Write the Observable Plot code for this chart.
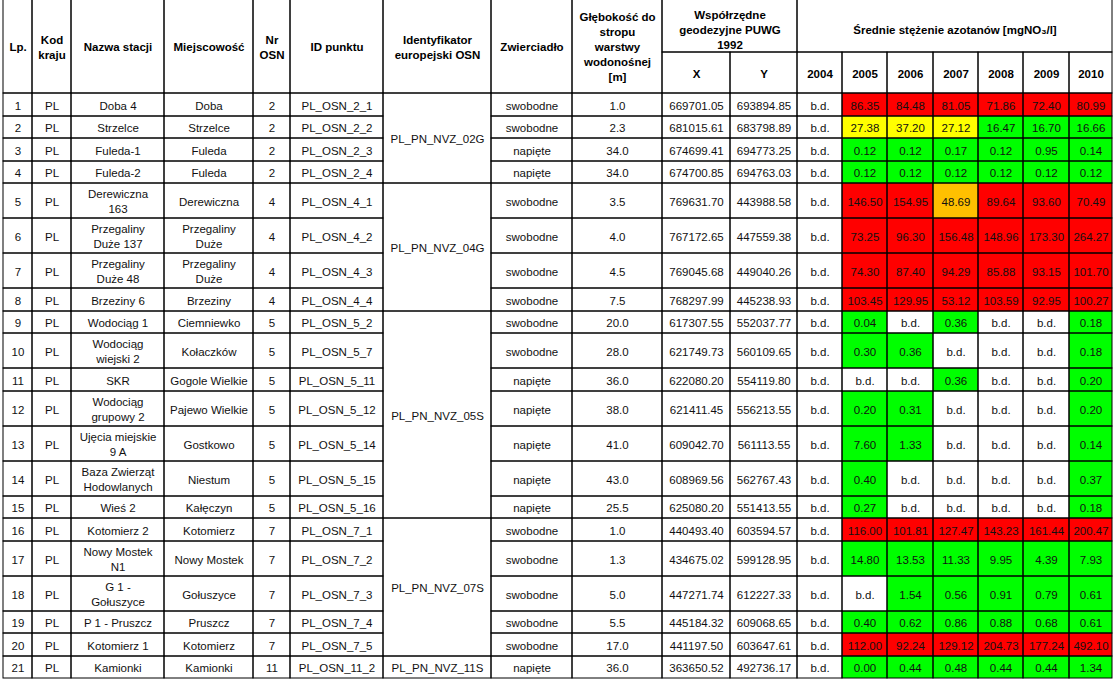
<!DOCTYPE html>
<html>
<head>
<meta charset="utf-8">
<script src="https://cdn.jsdelivr.net/npm/d3@7"></script>
<script src="https://cdn.jsdelivr.net/npm/@observablehq/plot@0.6"></script>
<style>
  html, body { margin: 0; padding: 0; background: #ffffff; }
  #chart svg { display: block; }
</style>
</head>
<body>
<div id="chart"></div>
<script>
// ---------------- DATA ----------------
const lp = [1,2,3,4,5,6,7,8,9,10,11,12,13,14,15,16,17,18,19,20,21];
const countryCodes = ["PL","PL","PL","PL","PL","PL","PL","PL","PL","PL","PL","PL","PL","PL","PL","PL","PL","PL","PL","PL","PL"];
const stationNames = ["Doba 4","Strzelce","Fuleda-1","Fuleda-2","Derewiczna\n163","Przegaliny\nDuże 137","Przegaliny\nDuże 48","Brzeziny 6","Wodociąg 1","Wodociąg\nwiejski 2","SKR","Wodociąg\ngrupowy 2","Ujęcia miejskie\n9 A","Baza Zwierząt\nHodowlanych","Wieś 2","Kotomierz 2","Nowy Mostek\nN1","G 1 -\nGołuszyce","P 1 - Pruszcz","Kotomierz 1","Kamionki"];
const localities = ["Doba","Strzelce","Fuleda","Fuleda","Derewiczna","Przegaliny\nDuże","Przegaliny\nDuże","Brzeziny","Ciemniewko","Kołaczków","Gogole Wielkie","Pajewo Wielkie","Gostkowo","Niestum","Kałęczyn","Kotomierz","Nowy Mostek","Gołuszyce","Pruszcz","Kotomierz","Kamionki"];
const osnNumbers = [2,2,2,2,4,4,4,4,5,5,5,5,5,5,5,7,7,7,7,7,11];
const pointIds = ["PL_OSN_2_1","PL_OSN_2_2","PL_OSN_2_3","PL_OSN_2_4","PL_OSN_4_1","PL_OSN_4_2","PL_OSN_4_3","PL_OSN_4_4","PL_OSN_5_2","PL_OSN_5_7","PL_OSN_5_11","PL_OSN_5_12","PL_OSN_5_14","PL_OSN_5_15","PL_OSN_5_16","PL_OSN_7_1","PL_OSN_7_2","PL_OSN_7_3","PL_OSN_7_4","PL_OSN_7_5","PL_OSN_11_2"];
const euIds = ["PL_PN_NVZ_02G","PL_PN_NVZ_02G","PL_PN_NVZ_02G","PL_PN_NVZ_02G","PL_PN_NVZ_04G","PL_PN_NVZ_04G","PL_PN_NVZ_04G","PL_PN_NVZ_04G","PL_PN_NVZ_05S","PL_PN_NVZ_05S","PL_PN_NVZ_05S","PL_PN_NVZ_05S","PL_PN_NVZ_05S","PL_PN_NVZ_05S","PL_PN_NVZ_05S","PL_PN_NVZ_07S","PL_PN_NVZ_07S","PL_PN_NVZ_07S","PL_PN_NVZ_07S","PL_PN_NVZ_07S","PL_PN_NVZ_11S"];
const waterTable = ["swobodne","swobodne","napięte","napięte","swobodne","swobodne","swobodne","swobodne","swobodne","swobodne","napięte","napięte","napięte","napięte","napięte","swobodne","swobodne","swobodne","swobodne","swobodne","napięte"];
const depths = [1.0,2.3,34.0,34.0,3.5,4.0,4.5,7.5,20.0,28.0,36.0,38.0,41.0,43.0,25.5,1.0,1.3,5.0,5.5,17.0,36.0];
const coordX = [669701.05,681015.61,674699.41,674700.85,769631.70,767172.65,769045.68,768297.99,617307.55,621749.73,622080.20,621411.45,609042.70,608969.56,625080.20,440493.40,434675.02,447271.74,445184.32,441197.50,363650.52];
const coordY = [693894.85,683798.89,694773.25,694763.03,443988.58,447559.38,449040.26,445238.93,552037.77,560109.65,554119.80,556213.55,561113.55,562767.43,551413.55,603594.57,599128.95,612227.33,609068.65,603647.61,492736.17];

const years = ["2004","2005","2006","2007","2008","2009","2010"];
const n2004 = [null,null,null,null,null,null,null,null,null,null,null,null,null,null,null,null,null,null,null,null,null];
const n2005 = [86.35,27.38,0.12,0.12,146.50,73.25,74.30,103.45,0.04,0.30,null,0.20,7.60,0.40,0.27,116.00,14.80,null,0.40,112.00,0.00];
const n2006 = [84.48,37.20,0.12,0.12,154.95,96.30,87.40,129.95,null,0.36,null,0.31,1.33,null,null,101.81,13.53,1.54,0.62,92.24,0.44];
const n2007 = [81.05,27.12,0.17,0.12,48.69,156.48,94.29,53.12,0.36,null,0.36,null,null,null,null,127.47,11.33,0.56,0.86,129.12,0.48];
const n2008 = [71.86,16.47,0.12,0.12,89.64,148.96,85.88,103.59,null,null,null,null,null,null,null,143.23,9.95,0.91,0.88,204.73,0.44];
const n2009 = [72.40,16.70,0.95,0.12,93.60,173.30,93.15,92.95,null,null,null,null,null,null,null,161.44,4.39,0.79,0.68,177.24,0.44];
const n2010 = [80.99,16.66,0.14,0.12,70.49,264.27,101.70,100.27,0.18,0.18,0.20,0.20,0.14,0.37,0.18,200.47,7.93,0.61,0.61,492.10,1.34];
const nitrateSeries = [n2004,n2005,n2006,n2007,n2008,n2009,n2010];

const headerLabels = ["Lp.","Kod\nkraju","Nazwa stacji","Miejscowość","Nr\nOSN","ID punktu","Identyfikator\neuropejski OSN","Zwierciadło","Głębokość do\nstropu\nwarstwy\nwodonośnej\n[m]"];
const coordGroupLabel = "Współrzędne\ngeodezyjne PUWG\n1992";
const coordLabels = ["X","Y"];
const nitrateGroupLabel = "Średnie stężenie azotanów [mgNO₃/l]";
const missingLabel = "b.d.";
const classThresholds = [25, 40, 50];
const classColors = ["#00ff00","#ffff00","#ffc000","#ff0000"];

// ---------------- LAYOUT ----------------
const colWidths = [29,39,93,89,37,93,108,81,90,68,67,45,45,46,45,45,46,43];
const tableLeft = 3;
const xEdges = [tableLeft, ...Array.from(d3.cumsum(colWidths), c => tableLeft + c)];
const headerTop = -1, headerSplit = 52, headerBottom = 93;
const singleH = 22.5, doubleH = 35;
const rowHeights = lp.map((_, i) => (stationNames[i].includes("\n") || localities[i].includes("\n")) ? doubleH : singleH);
const yEdges = [headerBottom, ...Array.from(d3.cumsum(rowHeights), c => Math.round(headerBottom + c))];

const allCells = [];   // borders
const headerText = [];
const groupText = [];
const bodyText = [];
const colorCells = [];

function cell(c0, c1, y1, y2, text, list) {
  const d = {x1: xEdges[c0], x2: xEdges[c1], y1, y2, text};
  allCells.push(d);
  if (list && text != null) list.push(d);
  return d;
}

// header
headerLabels.forEach((t, j) => cell(j, j + 1, headerTop, headerBottom, t, headerText));
cell(9, 11, headerTop, headerSplit, coordGroupLabel, groupText);
coordLabels.forEach((t, k) => cell(9 + k, 10 + k, headerSplit, headerBottom, t, headerText));
cell(11, 18, headerTop, headerSplit, nitrateGroupLabel, groupText);
years.forEach((t, k) => cell(11 + k, 12 + k, headerSplit, headerBottom, t, headerText));

// body
lp.forEach((n, i) => {
  const y1 = yEdges[i], y2 = yEdges[i + 1];
  cell(0, 1, y1, y2, String(n), bodyText);
  cell(1, 2, y1, y2, countryCodes[i], bodyText);
  cell(2, 3, y1, y2, stationNames[i], bodyText);
  cell(3, 4, y1, y2, localities[i], bodyText);
  cell(4, 5, y1, y2, String(osnNumbers[i]), bodyText);
  cell(5, 6, y1, y2, pointIds[i], bodyText);
  cell(7, 8, y1, y2, waterTable[i], bodyText);
  cell(8, 9, y1, y2, depths[i].toFixed(1), bodyText);
  cell(9, 10, y1, y2, coordX[i].toFixed(2), bodyText);
  cell(10, 11, y1, y2, coordY[i].toFixed(2), bodyText);
  nitrateSeries.forEach((s, k) => {
    const v = s[i];
    const d = cell(11 + k, 12 + k, y1, y2, v == null ? missingLabel : v.toFixed(2), bodyText);
    if (v != null) colorCells.push({...d, value: v});
  });
});
// merged European identifier cells
let start = 0;
for (let i = 1; i <= euIds.length; i++) {
  if (i === euIds.length || euIds[i] !== euIds[start]) {
    cell(6, 7, yEdges[start], yEdges[i], euIds[start], bodyText);
    start = i;
  }
}

const font = "'Liberation Sans', Arial, Helvetica, sans-serif";
const cx = d => (d.x1 + d.x2) / 2;
const cy = d => (d.y1 + d.y2) / 2;

const chart = Plot.plot({
  width: 1115,
  height: 683,
  margin: 0,
  x: {type: "linear", domain: [0, 1115], range: [0, 1115], axis: null},
  y: {type: "linear", domain: [0, 683], range: [0, 683], axis: null},
  color: {type: "threshold", domain: classThresholds, range: classColors},
  style: {background: "#ffffff", fontFamily: font},
  marks: [
    Plot.rect(colorCells, {x1: "x1", x2: "x2", y1: "y1", y2: "y2", fill: "value"}),
    Plot.rect(allCells, {x1: "x1", x2: "x2", y1: "y1", y2: "y2", fill: "none", stroke: "#000000", strokeWidth: 1}),
    Plot.text(headerText, {x: cx, y: cy, text: "text", fontWeight: "bold", fontSize: 11.5, fontFamily: font, lineHeight: 1.3, fill: "#000000"}),
    Plot.text(groupText, {x: cx, y: cy, dy: 3, text: "text", fontWeight: "bold", fontSize: 11.5, fontFamily: font, lineHeight: 1.3, fill: "#000000"}),
    Plot.text(bodyText, {x: cx, y: cy, text: "text", fontSize: 11.5, fontFamily: font, lineHeight: 1.3, fill: "#111111"})
  ]
});
document.getElementById("chart").appendChild(chart);
</script>
</body>
</html>
